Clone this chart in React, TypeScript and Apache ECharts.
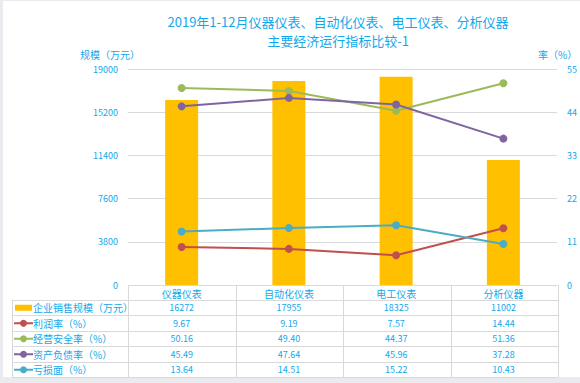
import React, { useEffect, useRef } from "react";
import * as echarts from "echarts";

const titleLines = ["2019年1-12月仪器仪表、自动化仪表、电工仪表、分析仪器", "主要经济运行指标比较-1"];
const leftAxisName = "规模（万元）";
const rightAxisName = "率（%）";
const categories = ["仪器仪表", "自动化仪表", "电工仪表", "分析仪器"];
const salesScale = [16272, 17955, 18325, 11002];
const profitRate = [9.67, 9.19, 7.57, 14.44];
const safetyRate = [50.16, 49.4, 44.37, 51.36];
const debtRatio = [45.49, 47.64, 45.96, 37.28];
const lossRatio = [13.64, 14.51, 15.22, 10.43];

const seriesNames = ["企业销售规模（万元）", "利润率（%）", "经营安全率（%）", "资产负债率（%）", "亏损面（%）"];
const seriesColors = ["#FFC000", "#C0504D", "#9BBB59", "#8064A2", "#4BACC6"];

const TXT = "#12A8EC";
const GRIDC = "#D9D9D9";
const FONT = "'Noto Sans CJK SC', 'Noto Sans', sans-serif";

const G_LEFT = 128;
const G_RIGHT = 558;
const G_TOP = 69;
const G_BOTTOM = 285;
const HEAD_BOTTOM = 299.5;
const ROW_H = 15.5;
const TABLE_LEFT = 12;

export default function App() {
  const ref = useRef<HTMLDivElement>(null);
  useEffect(() => {
    const chart = echarts.init(ref.current!, null, { renderer: "svg" });
    const lineData = [profitRate, safetyRate, debtRatio, lossRatio];
    const option: any = {
      animation: false,
      backgroundColor: "transparent",
      textStyle: { fontFamily: FONT },
      grid: { left: G_LEFT, right: 580 - G_RIGHT, top: G_TOP, bottom: 383 - G_BOTTOM, containLabel: false },
      xAxis: {
        type: "category",
        data: categories,
        axisLine: { show: true, lineStyle: { color: GRIDC, width: 1 } },
        axisTick: { show: false },
        axisLabel: { color: TXT, fontSize: 10, margin: 3, fontFamily: FONT },
      },
      yAxis: [
        {
          type: "value",
          min: 0,
          max: 19000,
          interval: 3800,
          axisLine: { show: false },
          axisTick: { show: false },
          splitLine: { lineStyle: { color: GRIDC, width: 1 } },
          axisLabel: { color: TXT, fontSize: 9, margin: 10, fontFamily: FONT, formatter: (v: number) => String(v) },
        },
        {
          type: "value",
          min: 0,
          max: 55,
          interval: 11,
          position: "right",
          axisLine: { show: false },
          axisTick: { show: false },
          splitLine: { show: false },
          axisLabel: { color: TXT, fontSize: 9, margin: 10, fontFamily: FONT, formatter: (v: number) => String(v) },
        },
      ],
      series: [
        {
          name: seriesNames[0],
          type: "bar",
          data: salesScale,
          barWidth: 33,
          itemStyle: { color: seriesColors[0] },
          yAxisIndex: 0,
        },
        ...lineData.map((d, i) => ({
          name: seriesNames[i + 1],
          type: "line",
          data: d,
          yAxisIndex: 1,
          symbol: "circle",
          symbolSize: 8,
          lineStyle: { color: seriesColors[i + 1], width: 2 },
          itemStyle: { color: seriesColors[i + 1] },
          z: 3,
        })),
      ],
    };
    chart.setOption(option);

    const xs = categories.map((_, i) => chart.convertToPixel({ xAxisIndex: 0 }, i) as number);
    const colW = (G_RIGHT - G_LEFT) / categories.length;
    const rowValues: string[][] = [
      salesScale.map((v) => String(v)),
      ...lineData.map((d) => d.map((v) => v.toFixed(2))),
    ];
    const nRows = rowValues.length;
    const tableBottom = HEAD_BOTTOM + nRows * ROW_H;
    const graphics: any[] = [];
    titleLines.forEach((t, i) => {
      graphics.push({
        type: "text",
        x: 338,
        y: 21 + i * 19,
        style: { text: t, fill: TXT, fontSize: 13, fontFamily: FONT, align: "center", verticalAlign: "middle" },
      });
    });
    graphics.push({
      type: "text",
      x: 140,
      y: 54,
      style: { text: leftAxisName, fill: TXT, fontSize: 10, fontFamily: FONT, align: "right", verticalAlign: "middle" },
    });
    graphics.push({
      type: "text",
      x: 538,
      y: 54,
      style: { text: rightAxisName, fill: TXT, fontSize: 10, fontFamily: FONT, align: "left", verticalAlign: "middle" },
    });
    for (let i = 0; i <= categories.length; i++) {
      const x = Math.round(G_LEFT + i * colW) + 0.5;
      graphics.push({
        type: "line",
        shape: { x1: x, y1: G_BOTTOM, x2: x, y2: tableBottom },
        style: { stroke: GRIDC, lineWidth: 1 },
      });
    }
    graphics.push({
      type: "line",
      shape: { x1: TABLE_LEFT + 0.5, y1: HEAD_BOTTOM, x2: TABLE_LEFT + 0.5, y2: tableBottom },
      style: { stroke: GRIDC, lineWidth: 1 },
    });
    for (let r = 0; r <= nRows; r++) {
      const y = Math.round(HEAD_BOTTOM + r * ROW_H) + 0.5;
      graphics.push({
        type: "line",
        shape: { x1: TABLE_LEFT, y1: y, x2: G_RIGHT + 0.5, y2: y },
        style: { stroke: GRIDC, lineWidth: 1 },
      });
    }
    rowValues.forEach((vals, r) => {
      const cy = HEAD_BOTTOM + r * ROW_H + ROW_H / 2 + 0.5;
      const color = seriesColors[r];
      if (r === 0) {
        graphics.push({
          type: "rect",
          shape: { x: 15, y: cy - 3, width: 17, height: 6 },
          style: { fill: color },
        });
      } else {
        graphics.push({
          type: "line",
          shape: { x1: 14, y1: cy, x2: 33, y2: cy },
          style: { stroke: color, lineWidth: 2 },
        });
        graphics.push({
          type: "circle",
          shape: { cx: 23.5, cy, r: 3.5 },
          style: { fill: color },
        });
      }
      graphics.push({
        type: "text",
        x: 33,
        y: cy,
        style: { text: seriesNames[r], fill: TXT, fontSize: 10, fontFamily: FONT, align: "left", verticalAlign: "middle" },
      });
      vals.forEach((v, i) => {
        graphics.push({
          type: "text",
          x: xs[i],
          y: cy,
          style: { text: v, fill: TXT, fontSize: 9, fontFamily: FONT, align: "center", verticalAlign: "middle" },
        });
      });
    });
    chart.setOption({ graphic: graphics });
    return () => chart.dispose();
  }, []);

  return (
    <div style={{ position: "absolute", left: 0, top: 0, width: 580, height: 383, background: "#E9EBEF" }}>
      <div style={{ position: "absolute", left: 3, top: 1, width: 577, height: 376, background: "#FFFFFF" }} />
      <div ref={ref} style={{ position: "absolute", left: 0, top: 0, width: 580, height: 383 }} />
    </div>
  );
}
